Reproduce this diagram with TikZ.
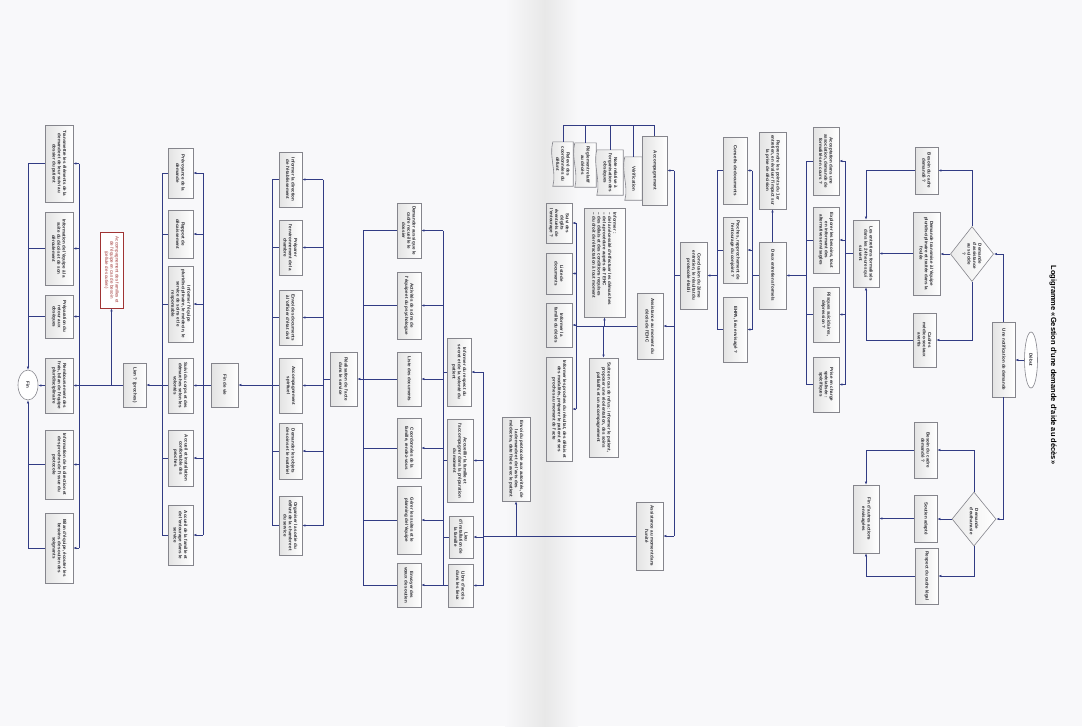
\documentclass[tikz,border=0pt]{standalone}
\usepackage{fontspec}
\setmainfont{Liberation Sans}
\usepackage{graphicx}
\usetikzlibrary{arrows.meta,shapes.geometric,calc,backgrounds}
\definecolor{lc}{HTML}{323C84}
\definecolor{bc}{HTML}{85858C}
\definecolor{rc}{HTML}{A03434}
\definecolor{bg}{HTML}{F8F8FA}
\definecolor{tc}{HTML}{2A2A30}
\newcommand{\rtx}[2]{\rotatebox{-90}{\parbox{\dimexpr#1pt-6pt\relax}{\centering\fontsize{4.5}{5.3}\selectfont\bfseries #2}}}
\newcommand{\mybox}[6][]{\node[box,minimum width=#4,minimum height=#5,#1] (#2) at (#3) {\rtx{#5}{#6}};}
\tikzset{
  box/.style={draw=bc, line width=0.6pt, left color=black!11, right color=white, inner sep=0pt, text=tc},
  redbox/.style={draw=rc, line width=0.6pt, fill=white, text=rc, inner sep=0pt},
  dia/.style={diamond, draw=bc, line width=0.6pt, left color=black!8, right color=white, inner sep=0pt, text=tc},
  ell/.style={ellipse, draw=bc, line width=0.6pt, fill=white, inner sep=0pt, text=tc},
  docn/.style={inner sep=0pt, text=tc},
  ln/.style={draw=lc, line width=0.55pt},
  ar/.style={ln, -{Latex[length=3pt,width=2.4pt]}},
}
\begin{document}
\begin{tikzpicture}[x=1pt,y=-1pt]
\useasboundingbox (0,0) rectangle (1082,726);

% title
\node (title) at (1053,365) {\rotatebox{-90}{\fontsize{7.5}{9}\selectfont\bfseries Logigramme «Gestion d'une demande d'aide au décès»}};

% start
\node[ell, minimum width=13, minimum height=56] (debut) at (1031,360) {\rotatebox{-90}{\fontsize{4.5}{5.3}\selectfont\bfseries Début}};
\mybox{notif}{1003.5,359.5}{23}{75}{Une notification de demande}

\node[dia, minimum width=43, minimum height=55] (d1) at (972,254) {\rotatebox{-90}{\parbox{24pt}{\centering\fontsize{4.5}{5.3}\selectfont\bfseries Demande d'assistance au suicide ?}}};
\node[dia, minimum width=44, minimum height=54] (d2) at (974,519) {\rotatebox{-90}{\parbox{24pt}{\centering\fontsize{4.5}{5.3}\selectfont\bfseries Demande d'euthanasie}}};

\mybox{b1}{926.5,170.5}{23}{47}{Besoin du cadre demandé ?}
\mybox{b2}{926.5,253.5}{27}{83}{Demande transmise à l'équipe pluridisciplinaire et traitée dans la foulée}
\mybox{b3}{924.5,340}{23}{54}{Cadres médico-sociaux avertis}
\mybox{c1}{925.5,450}{23}{56}{Besoin du cadre demandé ?}
\mybox{c2}{925.5,518.5}{23}{47}{Soutien adapté}
\mybox{c3}{926.5,576}{23}{56}{Respect du cadre légal}

\mybox{ent}{866,253.5}{26}{67}{Les entretiens formalisés dans les 24 heures qui suivent}
\mybox{fin2}{866,519}{26}{68}{Fin d'autres actions envisagées}

\mybox{e1}{826,161}{26}{68}{Acceptation dans une association, demande de formalités en cours ?}
\mybox{e2}{826,240}{26}{66}{Explorer les besoins, tout en informant des alternatives envisagées}
\mybox{e3}{826,314.5}{26}{55}{Risques suicidaires, dépression ?}
\mybox{e4}{826,384.5}{26}{55}{Prise en charge spécialisée : spécifiques}

\mybox{deux}{772.5,275.5}{27}{67}{Deux entretiens formels}
\mybox{rep}{772.5,170.5}{27}{77}{Reprendre les points du 1er entretien, en évaluer l'impact sur la prise de décision}

\mybox{f1}{735,170.5}{24}{67}{Conseils de documents}
\mybox{f2}{735,250}{24}{66}{Proches, rapprochement de l'entourage du conjoint ?}
\mybox{f3}{735,329.5}{24}{65}{EHPA, lieu envisagé ?}

\mybox{concl}{693.5,275.5}{27}{67}{Conclusion du 2ème entretien, le résultat du protocole établi}

\mybox{acc}{654.5,170.5}{25}{69}{Accompagnement}
\mybox{ehc}{650,326}{26}{66}{Assistance au moment du décès de l'EHC}
\mybox{assist}{649.5,536}{27}{68}{Assistance au moment dans l'unité}

% documents (outline drawn on background layer below)
\node[docn, minimum width=20, minimum height=44] (doc1) at (563,164) {\rtx{44}{Relevé des coordonnées du défunt}};
\node[docn, minimum width=21, minimum height=44] (doc2) at (585.5,165) {\rtx{44}{Règlement relatif au décès}};
\node[docn, minimum width=26, minimum height=45] (doc3) at (610,172.5) {\rtx{45}{Note relative à l'organisation des obsèques}};
\node[docn, minimum width=17, minimum height=43] (doc4) at (633.5,178.5) {\rtx{43}{Vérification}};

\node[box, minimum width=41, minimum height=109] (info) at (604.5,262.5) {\rotatebox{-90}{\parbox{100pt}{\raggedright\fontsize{4.5}{5.3}\selectfont\bfseries Informer :\\ -- de la nécessité d'effectuer les démarches\\ -- de la procédure auprès de l'EHC\\ -- des délais et des conditions requises\\ -- du droit de rétractation à tout moment}}};
\mybox{suite}{603.5,407.5}{29}{99}{Suite en cas de refus : informer le patient, proposer une réorientation, des soins palliatifs et un accompagnement}

\mybox{g1}{559,223}{26}{40}{Suivi des dégâts éventuels de l'entourage ?}
\mybox{g2}{559,273.5}{26}{41}{Liste de documents}
\mybox{g3}{559,325}{26}{44}{Informer la famille du décès}
\mybox{g4}{559,409}{26}{104}{Informer les proches du résultat, des délais et des modalités, préparer le patient et ses proches au moment de l'acte}

\mybox{env}{516,459}{28}{84}{Envoi du protocole aux autorités, de la demande et de l'avis des médecins, date fixée avec le patient}

\mybox{h1}{459,372}{24}{68}{Informer du respect du secret et de la volonté du patient}
\mybox{h2}{460,460.5}{26}{83}{Accueillir la famille et l'accompagner dans la préparation du moment}
\mybox{h3}{461,537}{24}{42}{Lieu d'installation de la famille}
\mybox{h4}{460.5,585.5}{25}{43}{Libre d'accès dans les lieux}

\mybox{i1}{409,230.5}{24}{55}{Demander aussi que le cadre recueille le dossier}
\mybox{i2}{409,305.5}{24}{67}{Activités de soins de l'équipe et du psychologue}
\mybox{i3}{409,379}{24}{54}{Liste des documents}
\mybox{i4}{409,448}{24}{60}{Coordonnées de la famille, rendez-vous}
\mybox{i5}{409,520}{24}{68}{Gérer les suites et le planning de l'équipe}
\mybox{i6}{409,585}{24}{44}{Envoyer des vœux de soutien}

\mybox{real}{343.5,379}{27}{54}{Réalisation de l'acte dans le service}

\mybox{j1}{290.5,179.5}{23}{55}{Informer la direction de l'établissement}
\mybox{j2}{290.5,247.5}{23}{55}{Préparer l'environnement de la chambre}
\mybox{j3}{290.5,317.5}{23}{55}{Envoi des documents à l'officier d'état civil}
\mybox{j4}{290.5,385.5}{23}{55}{Accompagnement spirituel}
\mybox{j5}{290.5,451}{23}{56}{Demander les objets de soins et le matériel}
\mybox{j6}{290.5,525.5}{23}{59}{Organiser la sortie du défunt de la chambre et du service}

\mybox{fv}{224.5,385}{27}{44}{Fin de vie}

\mybox{k1}{180.5,173}{25}{50}{Prévoyance de la demande}
\mybox{k2}{180.5,234}{25}{48}{Rapport de décaissement}
\mybox{k3}{180.5,304}{25}{76}{Informer l'équipe pluridisciplinaire, le médecin, le service de soins et le responsable}
\mybox{k4}{180.5,385.5}{25}{55}{Suivi du corps et des démarches selon les volontés}
\mybox{k5}{180.5,458}{25}{56}{Accueil et installation confortable des proches}
\mybox{k6}{180.5,535}{25}{60}{Accueil de la famille et de l'entourage dans le service}

\mybox{lien}{134.5,385}{23}{44}{Lien ? (proches)}
\node[redbox, minimum width=23, minimum height=76] (red) at (111.5,270) {\rotatebox{-90}{\parbox{70pt}{\centering\fontsize{4.5}{5.3}\selectfont Accompagnement des familles et de l'équipe en cas de besoin (cellule de soutien)}}};

\mybox{m1}{59,163.5}{28}{77}{Transmettre les éléments de la demande et de leur suivi au dossier du patient}
\mybox{m2}{59,248.5}{28}{73}{Information de l'équipe à la suite du décès et de son déroulement}
\mybox{m3}{59,316.5}{28}{43}{Préparation du retour aux obsèques}
\mybox{m4}{59,385.5}{28}{55}{Remboursement des frais, bilan de l'équipe pluridisciplinaire}
\mybox{m5}{59,464.5}{28}{69}{Information de la direction et des proches de l'issue du protocole}
\mybox{m6}{59,548}{28}{70}{Bilan d'équipe, écouter les besoins de soutien des soignants}

\node[ell, minimum width=20, minimum height=30] (fin) at (28,385) {\rotatebox{-90}{\fontsize{4.5}{5.3}\selectfont\bfseries Fin}};

% background: page, fold, document outlines
\begin{scope}[on background layer]
\fill[bg] (0,0) rectangle (1082,726);
\shade[left color=bg, right color=black!9] (505,0) rectangle (545,726);
\shade[left color=black!9, right color=bg] (545,0) rectangle (578,726);
\foreach \d in {doc1,doc2,doc3,doc4}{
  \draw[draw=bc, line width=0.6pt, left color=black!11, right color=white]
    (\d.north west) -- (\d.north east) -- (\d.south east) -- (\d.south west)
    .. controls ($(\d.south west)!0.33!(\d.north west)+(4,0)$) and ($(\d.south west)!0.66!(\d.north west)+(-4,0)$) .. (\d.north west) -- cycle;
}
\end{scope}

% trunk coordinates
\coordinate (tE) at (845,0);
\coordinate (tEL) at (806,0);
\coordinate (tF) at (752,0);
\coordinate (tFL) at (717,0);
\coordinate (tC) at (674,0);
\coordinate (tG) at (576,0);
\coordinate (tH) at (483,0);
\coordinate (tI) at (443,0);
\coordinate (tIL) at (363,0);
\coordinate (tJ) at (323,0);
\coordinate (tJL) at (272,0);
\coordinate (tK) at (203,0);
\coordinate (tKL) at (162,0);
\coordinate (tM) at (79,0);
\coordinate (bk) at (0,125);

% connectors
\draw[ar] (debut.west) -- (debut.west -| notif.east);
\draw[ar] (notif.north) |- (d1.east);
\draw[ar] (notif.south) |- (d2.east);
\draw[ar] (d1.north) |- (b1.east);
\draw[ar] (d1.west) -- (d1.west -| b2.east);
\draw[ar] (d1.south) |- (b3.east);
\draw[ar] (d2.north) |- (c1.east);
\draw[ar] (d2.west) -- (d2.west -| c2.east);
\draw[ar] (d2.south) |- (c3.east);
\draw[ar] (b1.west) -| (ent.north);
\draw[ar] (b2.west) -- (b2.west -| ent.east);
\draw[ar] (b3.west) -| (ent.south);
\draw[ar] (c1.west) -| (fin2.north);
\draw[ar] (c2.west) -- (c2.west -| fin2.east);
\draw[ar] (c3.west) -| (fin2.south);

\draw[ln] (ent.west) -- (ent.west -| tE);
\draw[ln] (tE |- e1) -- (tE |- e4);
\draw[ln] (tEL |- e1) -- (tEL |- e4);
\foreach \n in {e1,e2,e3,e4}{
  \draw[ar] (tE |- \n) -- (\n.east);
  \draw[ln] (\n.west) -- (\n.west -| tEL);
}
\draw[ar] (tEL |- deux) -- (deux.east);
\draw[ar] (deux.north) -- (rep.south);
\draw[ln] (deux.west) -- (deux.west -| tF);
\draw[ln] (tF |- f1) -- (tF |- f3);
\draw[ln] (tFL |- f1) -- (tFL |- f3);
\foreach \n in {f1,f2,f3}{
  \draw[ar] (tF |- \n) -- (\n.east);
  \draw[ln] (\n.west) -- (\n.west -| tFL);
}
\draw[ar] (tFL |- concl) -- (concl.east);
\draw[ln] (concl.west) -- (concl.west -| tC);
\draw[ln] (tC |- acc) -- (tC |- assist);
\draw[ar] (tC |- acc) -- (acc.east);
\draw[ar] (tC |- ehc) -- (ehc.east);
\draw[ar] (tC |- assist) -- (assist.east);

\draw[ln] (acc.north) -- (acc.north |- bk) -- (bk -| doc1.north) -- (doc1.north);
\foreach \d in {doc2,doc3,doc4}{ \draw[ln] (bk -| \d.north) -- (\d.north); }

\draw[ln] (ehc.west) -- (ehc.west -| tG);
\draw[ln] (tG |- g1) -- (tG |- g4);
\foreach \n in {g1,g2,g3,g4}{ \draw[ar] (tG |- \n) -- (\n.east); }
\draw[ar] (info.south |- ehc.west) -- (info.south);
\draw[ar] (suite.north |- ehc.west) -- (suite.north);

\draw[ln] (assist.west) -- (assist.west -| tH);
\draw[ar] (env.south |- assist.west) -- (env.south);
\draw[ln] (tH |- h1) -- (tH |- h4);
\foreach \n in {h1,h2,h3,h4}{
  \draw[ar] (tH |- \n) -- (\n.east);
  \draw[ln] (\n.west) -- (\n.west -| tI);
}
\draw[ln] (tI |- i1) -- (tI |- i6);
\draw[ln] (tIL |- i1) -- (tIL |- i6);
\foreach \n in {i1,i2,i3,i4,i5,i6}{
  \draw[ar] (tI |- \n) -- (\n.east);
  \draw[ln] (\n.west) -- (\n.west -| tIL);
}
\draw[ar] (tIL |- real) -- (real.east);
\draw[ln] (real.west) -- (real.west -| tJ);
\draw[ln] (tJ |- j1) -- (tJ |- j6);
\draw[ln] (tJL |- j1) -- (tJL |- j6);
\foreach \n in {j1,j2,j3,j4,j5,j6}{
  \draw[ar] (tJ |- \n) -- (\n.east);
  \draw[ln] (\n.west) -- (\n.west -| tJL);
}
\draw[ar] (tJL |- fv) -- (fv.east);
\draw[ln] (fv.west) -- (fv.west -| tK);
\draw[ln] (tK |- k1) -- (tK |- k6);
\draw[ln] (tKL |- k1) -- (tKL |- k6);
\foreach \n in {k1,k2,k3,k4,k5,k6}{
  \draw[ar] (tK |- \n) -- (\n.east);
  \draw[ln] (\n.west) -- (\n.west -| tKL);
}
\draw[ar] (tKL |- lien) -- (lien.east);
\draw[ln] (lien.west) -- (lien.west -| tM);
\draw[ar] (red.south |- lien.west) -- (red.south);
\draw[ln] (tM |- m1) -- (tM |- m6);
\foreach \n in {m1,m2,m3,m4,m5,m6}{ \draw[ar] (tM |- \n) -- (\n.east); }
\foreach \n in {m1,m2,m3,m5,m6}{ \draw[ln] (\n.west) -- (\n.west -| fin.north); }
\draw[ar] (fin.north |- m1) -- (fin.north);
\draw[ar] (fin.south |- m6) -- (fin.south);
\draw[ar] (m4.west) -- (m4.west -| fin.east);
\end{tikzpicture}
\end{document}
